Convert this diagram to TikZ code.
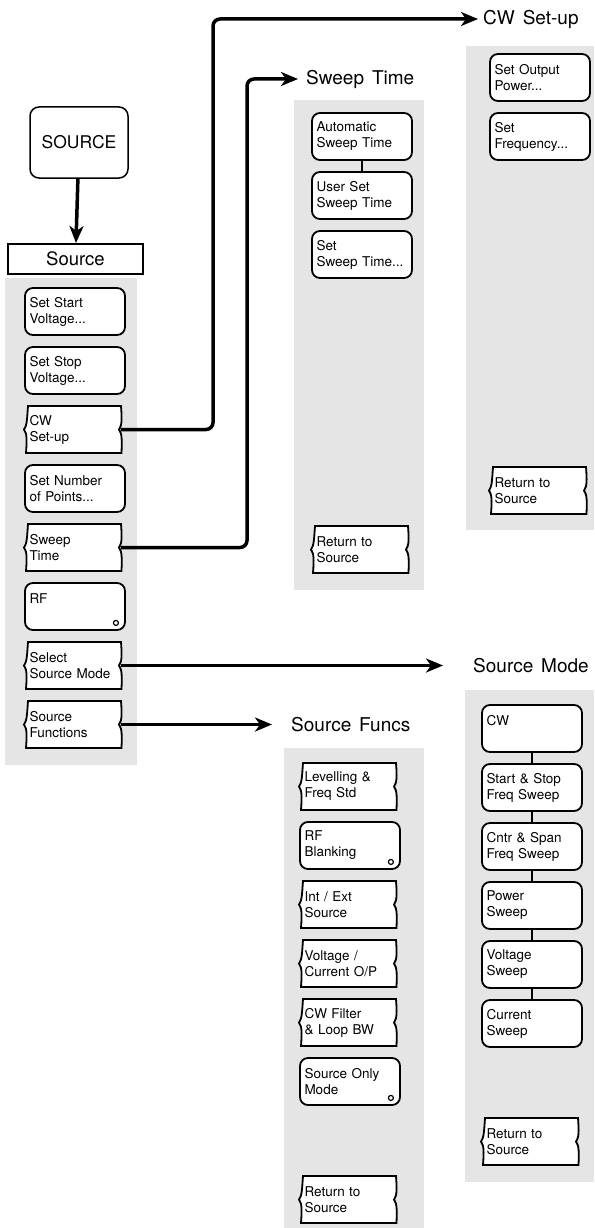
\documentclass[tikz,border=0pt]{standalone}
\usepackage{fontspec}
\setmainfont{TeX Gyre Heros}[WordSpace=1.5]
\usetikzlibrary{calc,arrows.meta,backgrounds}

\begin{document}
\begin{tikzpicture}[x=1pt, y=-1pt,
  keyline/.style={line width=1.8pt},
  softkey/.style={keyline, draw, fill=white, rounded corners=8pt, minimum width=100pt, minimum height=47pt, text width=91pt, inner sep=0pt, align=left, font=\fontsize{13.5}{16}\selectfont},
  flagkey/.style={softkey, draw=none, fill=none},
  menutitle/.style={anchor=west, inner sep=0pt, font=\fontsize{19}{21}\selectfont},
  conn/.style={line width=3.5pt, rounded corners=7pt, -{Stealth[length=17pt,width=14pt,inset=5pt]}},
  stipple/.style={fill=black!10}]
  \useasboundingbox (0,0) rectangle (594,1228);

  \node[draw, line width=1.5pt, rounded corners=9pt, minimum width=98pt, minimum height=71pt, font=\fontsize{17.5}{20}\selectfont] (ksrc) at (79,142.5) {SOURCE};
  \node[draw, line width=2pt, fill=white, minimum width=135pt, minimum height=30pt, font=\fontsize{18.5}{20}\selectfont] (tsrc) at (75.5,259) {Source};

  \node[softkey] (kstart) at (75,311.5) {Set Start\\Voltage...};
  \node[softkey] (kstop) at (75,370.5) {Set Stop\\Voltage...};
  \node[flagkey] (kcw) at (75,429.5) {CW\\Set-up};
  \node[softkey] (kpts) at (75,488.5) {Set Number\\of Points...};
  \node[flagkey] (kswp) at (75,547.5) {Sweep\\Time};
  \node[softkey] (krf) at (75,606.5) {RF\\\mbox{}};
  \node[flagkey] (ksel) at (75,665.5) {Select\\Source Mode};
  \node[flagkey] (kfun) at (75,724.5) {Source\\Functions};

  \node[menutitle] (tswp) at (306,79) {Sweep Time};
  \node[softkey] (kauto) at (362,136.5) {Automatic\\Sweep Time};
  \node[softkey] (kuser) at (362,195.5) {User Set\\Sweep Time};
  \node[softkey] (ksettime) at (362,254.5) {Set\\Sweep~Time...};
  \node[flagkey] (kswret) at (362,549.5) {Return to\\Source};

  \node[menutitle] (tcw) at (483,19) {CW Set-up};
  \node[softkey] (kpow) at (540,77.5) {Set Output\\Power...};
  \node[softkey] (kfreq) at (540,136.5) {Set\\Frequency...};
  \node[flagkey] (kcwret) at (540,490.5) {Return to\\Source};

  \node[menutitle] (tmode) at (473,665.5) {Source Mode};
  \node[softkey] (kmcw) at (532,728.5) {CW\\\mbox{}};
  \node[softkey] (kmss) at (532,787.5) {Start \& Stop\\Freq Sweep};
  \node[softkey] (kmcs) at (532,846.5) {Cntr \& Span\\Freq Sweep};
  \node[softkey] (kmpw) at (532,905.5) {Power\\Sweep};
  \node[softkey] (kmvl) at (532,964.5) {Voltage\\Sweep};
  \node[softkey] (kmcu) at (532,1023.5) {Current\\Sweep};
  \node[flagkey] (kmdret) at (532,1141.5) {Return to\\Source};

  \node[menutitle] (tfun) at (291,724.5) {Source Funcs};
  \node[flagkey] (klev) at (350,786.5) {Levelling \&\\Freq Std};
  \node[softkey] (kblank) at (350,845.5) {RF\\Blanking};
  \node[flagkey] (kint) at (350,904.5) {Int / Ext\\Source};
  \node[flagkey] (kvolt) at (350,963.5) {Voltage /\\Current O/P};
  \node[flagkey] (kfilt) at (350,1022.5) {CW Filter\\\& Loop BW};
  \node[softkey] (konly) at (350,1081.5) {Source Only\\Mode};
  \node[flagkey] (kfnret) at (350,1199.5) {Return to\\Source};

  \begin{scope}[on background layer]
    \fill[stipple] (5,278) rectangle (137,765);
    \fill[stipple] (294,100) rectangle (424,590);
    \fill[stipple] (466,46) rectangle (594,530);
    \fill[stipple] (284,748) rectangle (424,1228);
    \fill[stipple] (465,690) rectangle (594,1182);
    \foreach \k in {kcw,kswp,ksel,kfun,kswret,kcwret,kmdret,klev,kint,kvolt,kfilt,kfnret}
      \filldraw[keyline, fill=white, shift={(\k.center)}] (-47,-23.5) -- (46,-23.5) .. controls (47,-10) and (47,-4) .. (44,0) .. controls (47,4) and (47,10) .. (46.5,23.5) -- (-49,23.5) .. controls (-48,10) and (-48,4) .. (-51,0) .. controls (-48,-4) and (-48,-10) .. (-47,-23.5) -- cycle;
  \end{scope}

  \draw[keyline] (kauto.south) -- (kuser.north);
  \foreach \a/\b in {kmcw/kmss,kmss/kmcs,kmcs/kmpw,kmpw/kmvl,kmvl/kmcu}
    \draw[keyline] (\a.south) -- (\b.north);
  \foreach \k in {krf,kblank,konly}
    \draw[line width=1.2pt] ($(\k.south east)+(-10,-8)$) circle (2.5pt);

  \coordinate (cwup) at (213,19);
  \coordinate (swup) at (247,79);
  \draw[conn] (ksrc) -- (tsrc);
  \draw[conn, shorten <=-5pt, shorten >=5pt] (kcw.east) -| (cwup) -- (tcw.west);
  \draw[conn, shorten <=-5pt, shorten >=8pt] (kswp.east) -| (swup) -- (tswp.west);
  \draw[conn, shorten <=-5pt, shorten >=30pt] (ksel.east) -- (tmode.west);
  \draw[conn, shorten <=-5pt, shorten >=19pt] (kfun.east) -- (tfun.west);
\end{tikzpicture}
\end{document}
